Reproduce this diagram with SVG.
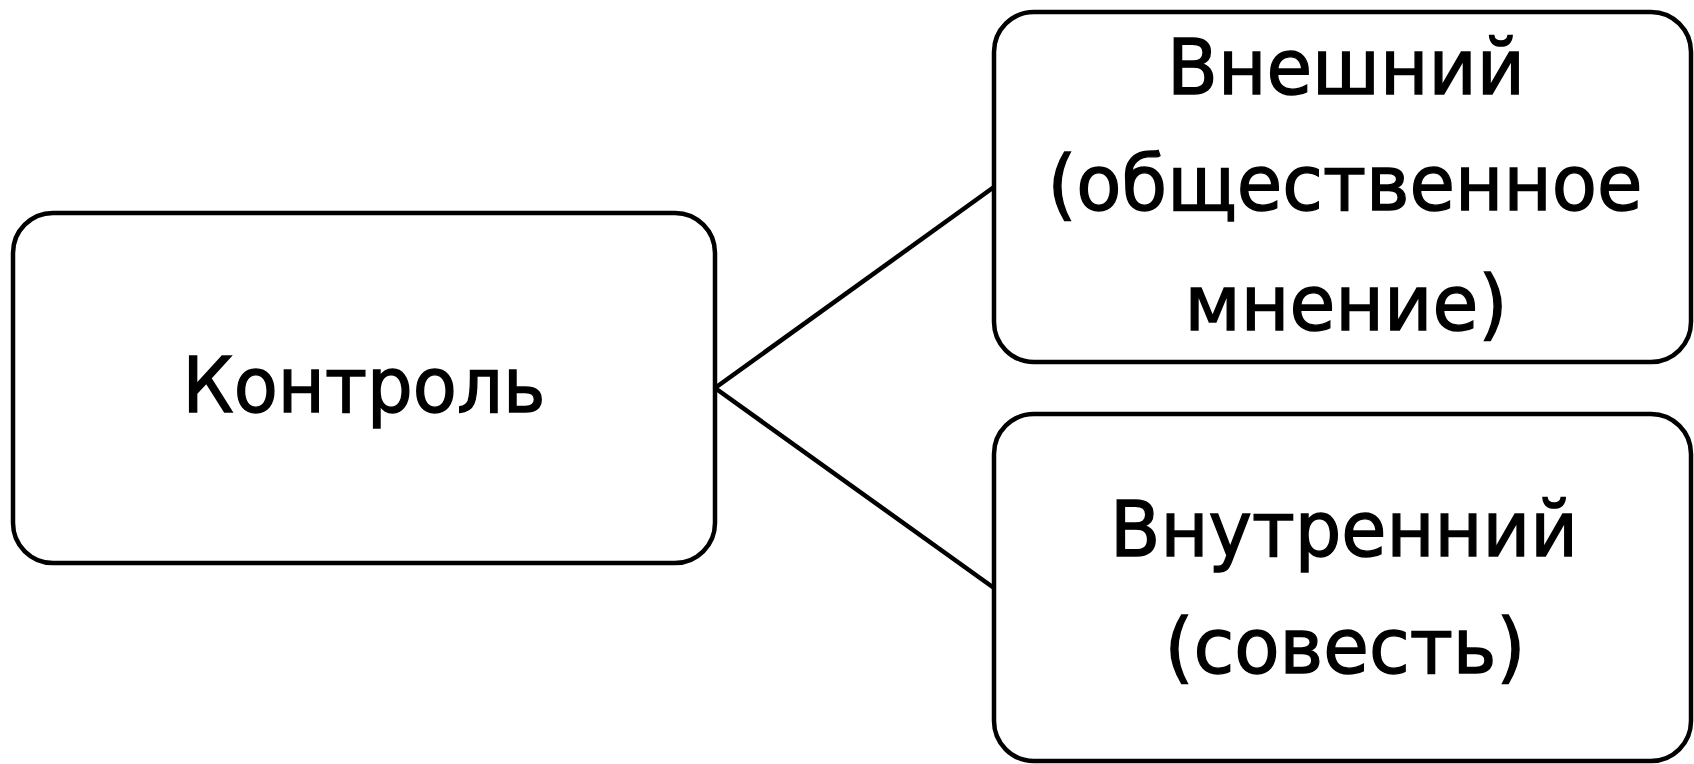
<svg xmlns="http://www.w3.org/2000/svg" width="1694" height="764" viewBox="0 0 1694 764">
<style>
.box{fill:#fff;stroke:#000;stroke-width:4.5}
.lbl{font-family:"DejaVu Sans","Noto Sans",sans-serif;font-size:77px;fill:#000;stroke:#000;stroke-width:1.4;text-anchor:middle}
.edge{stroke:#000;stroke-width:4.5;fill:none}
</style>
<rect width="1694" height="764" fill="#fff"/>
<g id="connectors">
<line class="edge" x1="715" y1="388" x2="994" y2="187"/>
<line class="edge" x1="715" y1="388" x2="994" y2="588"/>
</g>
<g id="node-control">
<rect class="box" x="13" y="213" width="702" height="350" rx="40" ry="40"/>
<text class="lbl" x="364" y="412" textLength="363" lengthAdjust="spacingAndGlyphs">Контроль</text>
</g>
<g id="node-external">
<rect class="box" x="994" y="12" width="697" height="350" rx="40" ry="40"/>
<text class="lbl" x="1346" y="94" textLength="358" lengthAdjust="spacingAndGlyphs">Внешний</text>
<text class="lbl" x="1345" y="210" textLength="595" lengthAdjust="spacingAndGlyphs">(общественное</text>
<text class="lbl" x="1346" y="330" textLength="323" lengthAdjust="spacingAndGlyphs">мнение)</text>
</g>
<g id="node-internal">
<rect class="box" x="994" y="414" width="697" height="347" rx="40" ry="40"/>
<text class="lbl" x="1344" y="556" textLength="468" lengthAdjust="spacingAndGlyphs">Внутренний</text>
<text class="lbl" x="1345" y="673" textLength="361" lengthAdjust="spacingAndGlyphs">(совесть)</text>
</g>
</svg>
